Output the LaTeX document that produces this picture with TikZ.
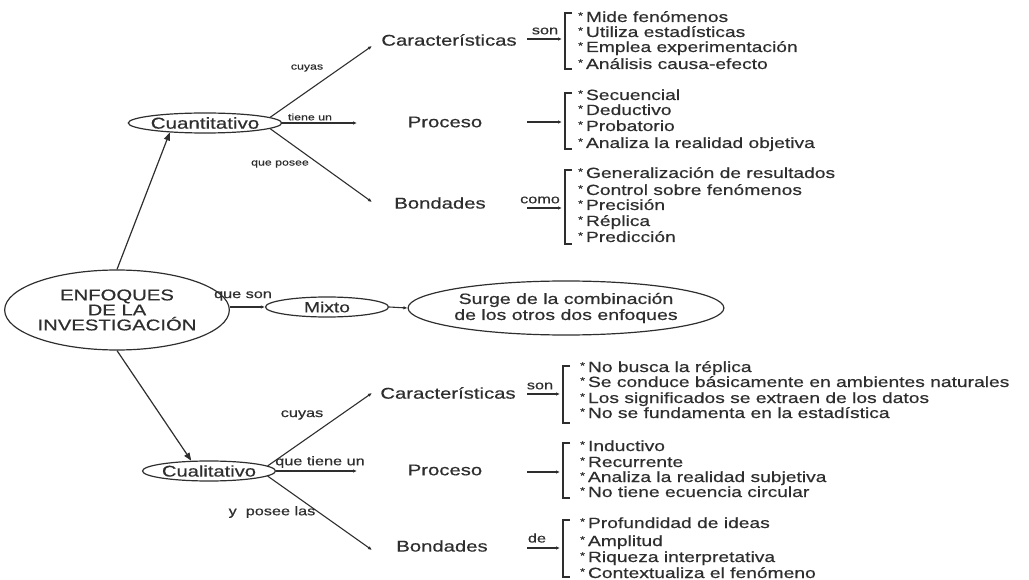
\documentclass[tikz,border=0pt]{standalone}
\usepackage{fontspec}
\setmainfont{Liberation Sans}[FakeStretch=1.3,FakeBold=0.5]
\usetikzlibrary{arrows.meta,shapes.geometric}
\definecolor{ink}{HTML}{2E2E2E}
\newcommand{\bul}{\raisebox{0.4ex}{\fontsize{9.5}{9.5}\selectfont *}\hspace{3pt}}
\begin{document}
\begin{tikzpicture}[x=1pt,y=-1pt,
  every node/.style={text=ink, inner sep=1pt},
  lbl/.style={font=\fontsize{15.6}{16}\selectfont},
  itm/.style={font=\fontsize{14.8}{15}\selectfont, anchor=base west},
  smalltxt/.style={font=\fontsize{12.5}{13}\selectfont},
  tinytxt/.style={font=\fontsize{9.5}{10}\selectfont},
  oval/.style={draw=ink, ellipse, line width=1.2pt, inner sep=0pt},
  conn/.style={draw=ink, line width=1.1pt, -{Latex[length=4pt,width=3.5pt]}},
  bigarrow/.style={draw=ink, line width=1.2pt, -{Triangle[length=8pt,width=6pt]}},
  brk/.style={draw=ink, line width=1.1pt}]
\useasboundingbox (0,0) rectangle (1029,580);

% main ovals
\node[oval, minimum width=210pt, minimum height=80pt, align=center,
      font=\fontsize{15.6}{15}\selectfont] (enf) at (117,310) {ENFOQUES\\DE LA\\INVESTIGACIÓN};
\node[oval, minimum width=130pt, minimum height=20pt, font=\fontsize{15.8}{16}\selectfont] (cuant) at (205,123) {Cuantitativo};
\node[oval, minimum width=123pt, minimum height=20pt, font=\fontsize{14.8}{15}\selectfont] (mix) at (327,307) {Mixto};
\node[oval, minimum width=267pt, minimum height=54pt, align=center,
      font=\fontsize{15}{16}\selectfont] (surge) at (566,308) {Surge de la combinación\\de los otros dos enfoques};
\node[oval, minimum width=122pt, minimum height=20pt, font=\fontsize{15.5}{16}\selectfont] (cual) at (209,471) {Cualitativo};

% branch labels
\node[lbl] (car1) at (449,40) {Características};
\node[lbl] (proc1) at (445,122) {Proceso};
\node[lbl] (bond1) at (440,203) {Bondades};
\node[lbl] (car2) at (448,393) {Características};
\node[lbl] (proc2) at (445,470) {Proceso};
\node[lbl] (bond2) at (442,546) {Bondades};

% main arrows
\draw[bigarrow] (enf.north) -- (cuant.-165);
\draw[bigarrow] (enf.south) -- (cual.150);
\draw[conn] (enf.east|-mix.west) -- (mix.west);
\draw[conn] (mix.east) -- (surge.west);
\node[smalltxt] (queson) at (243,296) {que son};

% Cuantitativo branches
\coordinate (c1end) at (372,46);
\coordinate (p1end) at (357,123);
\coordinate (b1end) at (372,202);
\draw[conn] (cuant.5) -- (c1end);
\draw[conn] (cuant.east) -- (p1end);
\draw[conn] (cuant.-5) -- (b1end);
\node[tinytxt] (lcuyas1) at (307,68) {cuyas};
\node[tinytxt] (ltiene1) at (310,117) {tiene un};
\node[tinytxt] (lposee1) at (280,164) {que posee};

% Cualitativo branches
\coordinate (c2end) at (372,393);
\coordinate (p2end) at (357,471);
\coordinate (b2end) at (372,550);
\draw[conn] (cual.5) -- (c2end);
\draw[conn] (cual.east) -- (p2end);
\draw[conn] (cual.-5) -- (b2end);
\node[smalltxt] (lcuyas2) at (302,415) {cuyas};
\node[smalltxt] (ltiene2) at (320,462) {que tiene un};
\node[smalltxt] (lposee2) at (272,512) {y\ \ posee las};

% ---------- bracket groups: Cuantitativo ----------
\coordinate (qa1) at (527,39); \coordinate (qa2) at (562,39);
\draw[conn] (qa1) -- (qa2);
\node[smalltxt] (son1) at (545,31) {son};
\draw[brk] (572,13) -- (565,13) -- (565,69) -- (572,69);
\node[itm] (q11) at (577,22) {\bul Mide fenómenos};
\node[itm] (q12) at (577,37) {\bul Utiliza estadísticas};
\node[itm] (q13) at (577,52) {\bul Emplea experimentación};
\node[itm] (q14) at (577,69) {\bul Análisis causa-efecto};

\coordinate (qb1) at (527,122); \coordinate (qb2) at (562,122);
\draw[conn] (qb1) -- (qb2);
\draw[brk] (572,93) -- (565,93) -- (565,149) -- (572,149);
\node[itm] (q21) at (577,100) {\bul Secuencial};
\node[itm] (q22) at (577,115) {\bul Deductivo};
\node[itm] (q23) at (577,131) {\bul Probatorio};
\node[itm] (q24) at (577,148) {\bul Analiza la realidad objetiva};

\coordinate (qc1) at (527,208); \coordinate (qc2) at (562,208);
\draw[conn] (qc1) -- (qc2);
\node[smalltxt] (como1) at (540,200) {como};
\draw[brk] (572,170) -- (565,170) -- (565,244) -- (572,244);
\node[itm] (q31) at (577,178) {\bul Generalización de resultados};
\node[itm] (q32) at (577,195) {\bul Control sobre fenómenos};
\node[itm] (q33) at (577,210) {\bul Precisión};
\node[itm] (q34) at (577,226) {\bul Réplica};
\node[itm] (q35) at (577,242) {\bul Predicción};

% ---------- bracket groups: Cualitativo ----------
\coordinate (la1) at (527,394); \coordinate (la2) at (560,394);
\draw[conn] (la1) -- (la2);
\node[smalltxt] (son2) at (540,386) {son};
\draw[brk] (570,366) -- (563,366) -- (563,423) -- (570,423);
\node[itm] (l11) at (579,372) {\bul No busca la réplica};
\node[itm] (l12) at (579,387) {\bul Se conduce básicamente en ambientes naturales};
\node[itm] (l13) at (579,403) {\bul Los significados se extraen de los datos};
\node[itm] (l14) at (579,418) {\bul No se fundamenta en la estadística};

\coordinate (lb1) at (527,472); \coordinate (lb2) at (560,472);
\draw[conn] (lb1) -- (lb2);
\draw[brk] (570,443) -- (563,443) -- (563,498) -- (570,498);
\node[itm] (l21) at (579,451) {\bul Inductivo};
\node[itm] (l22) at (579,467) {\bul Recurrente};
\node[itm] (l23) at (579,482) {\bul Analiza la realidad subjetiva};
\node[itm] (l24) at (579,497) {\bul No tiene ecuencia circular};

\coordinate (lc1) at (527,548); \coordinate (lc2) at (560,548);
\draw[conn] (lc1) -- (lc2);
\node[smalltxt] (de2) at (537,538) {de};
\draw[brk] (570,520) -- (563,520) -- (563,577) -- (570,577);
\node[itm] (l31) at (579,528) {\bul Profundidad de ideas};
\node[itm] (l32) at (579,546) {\bul Amplitud};
\node[itm] (l33) at (579,562) {\bul Riqueza interpretativa};
\node[itm] (l34) at (579,578) {\bul Contextualiza el fenómeno};
\end{tikzpicture}
\end{document}
